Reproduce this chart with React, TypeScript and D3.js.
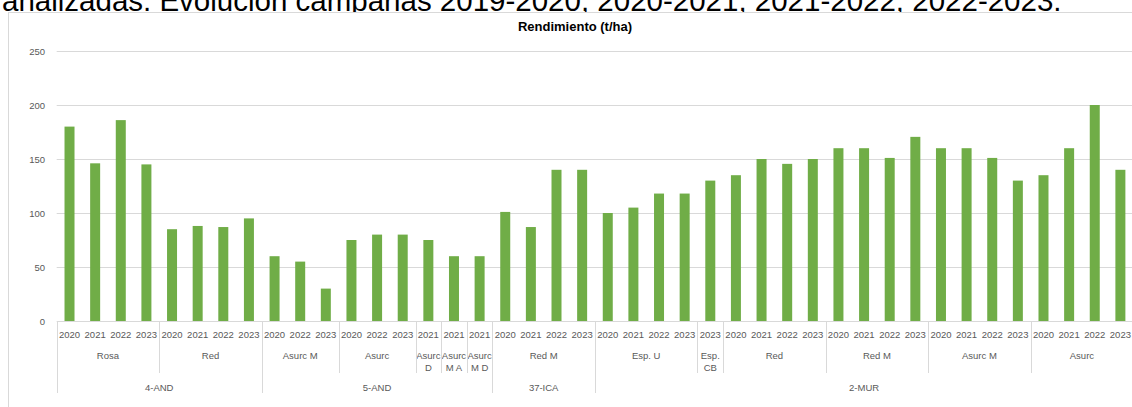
import { useEffect, useRef } from 'react';
import * as d3 from 'd3';

// Regions (bottom level of the axis)
const regiones = ["4-AND", "5-AND", "37-ICA", "2-MUR"];

// Variety groups (middle level) and the region each belongs to
const variedades = ["Rosa", "Red", "Asurc M", "Asurc", "Asurc D", "Asurc M A", "Asurc M D", "Red M", "Esp. U", "Esp. CB", "Red", "Red M", "Asurc M", "Asurc"];
const regionDeVariedad = [0, 0, 1, 1, 1, 1, 1, 2, 3, 3, 3, 3, 3, 3];

// Campaign years per variety group (top level)
const campanas = [
  ["2020", "2021", "2022", "2023"],
  ["2020", "2021", "2022", "2023"],
  ["2020", "2022", "2023"],
  ["2020", "2022", "2023"],
  ["2021"],
  ["2021"],
  ["2021"],
  ["2020", "2021", "2022", "2023"],
  ["2020", "2021", "2022", "2023"],
  ["2023"],
  ["2020", "2021", "2022", "2023"],
  ["2020", "2021", "2022", "2023"],
  ["2020", "2021", "2022", "2023"],
  ["2020", "2021", "2022", "2023"],
];

// Rendimiento (t/ha)
const rendimiento = [
  [180, 146, 186, 145],
  [85, 88, 87, 95],
  [60, 55, 30],
  [75, 80, 80],
  [75],
  [60],
  [60],
  [101, 87, 140, 140],
  [100, 105, 118, 118],
  [130],
  [135, 150, 145.5, 150],
  [160, 160, 151, 170.5],
  [160, 160, 151, 130],
  [135, 160, 200, 140],
];

const yTicks = [0, 50, 100, 150, 200, 250];

const FONT = "'Liberation Sans', Arial, sans-serif";
const LABEL = "#595959";

export default function App() {
  const svgRef = useRef<SVGSVGElement>(null);

  useEffect(() => {
    if (!svgRef.current) return;
    const svg = d3.select(svgRef.current);
    svg.selectAll("*").remove();

    // flatten into categories
    const cats: { year: string; value: number; group: number }[] = [];
    const groupStart: number[] = [];
    campanas.forEach((yrs, g) => {
      groupStart.push(cats.length);
      yrs.forEach((yr, j) => cats.push({ year: yr, value: rendimiento[g][j], group: g }));
    });
    const n = cats.length;

    const left = 56.7, right = 1133.2, top = 51, bottom = 321;
    const pad = 0.61;

    const x = d3.scaleBand<number>()
      .domain(d3.range(n))
      .range([left, right])
      .paddingInner(pad)
      .paddingOuter(pad / 2);

    const y = d3.scaleLinear().domain([0, 250]).range([bottom, top]);

    const edge = (i: number) => i >= n ? right : (x(i) as number) - (x.step() - x.bandwidth()) / 2;

    // page text above the chart (cut off at the top, as in the source)
    svg.append("text")
      .attr("x", 2)
      .attr("y", 11)
      .attr("font-family", FONT)
      .attr("font-size", 29.5)
      .attr("fill", "#000")
      .text("analizadas. Evolución campañas 2019-2020, 2020-2021, 2021-2022, 2022-2023.");

    // chart frame
    svg.append("rect")
      .attr("x", 8.5)
      .attr("y", 12.5)
      .attr("width", 1200)
      .attr("height", 500)
      .attr("fill", "#fff")
      .attr("stroke", "#d9d9d9");

    // title
    svg.append("text")
      .attr("x", 575)
      .attr("y", 31)
      .attr("text-anchor", "middle")
      .attr("font-family", FONT)
      .attr("font-weight", "bold")
      .attr("font-size", 13)
      .attr("fill", "#000")
      .text("Rendimiento (t/ha)");

    // gridlines
    svg.append("g")
      .selectAll("line")
      .data(yTicks)
      .enter()
      .append("line")
      .attr("x1", left)
      .attr("x2", right)
      .attr("y1", d => Math.round(y(d)) + 0.5)
      .attr("y2", d => Math.round(y(d)) + 0.5)
      .attr("stroke", "#d9d9d9")
      .attr("stroke-width", 1);

    // y labels
    svg.append("g")
      .selectAll("text")
      .data(yTicks)
      .enter()
      .append("text")
      .attr("x", 45)
      .attr("y", d => y(d) + 3.5)
      .attr("text-anchor", "end")
      .attr("font-family", FONT)
      .attr("font-size", 9.5)
      .attr("fill", LABEL)
      .text(d => d);

    // bars
    svg.append("g")
      .selectAll("rect")
      .data(cats)
      .enter()
      .append("rect")
      .attr("x", (_, i) => x(i) as number)
      .attr("y", d => y(d.value))
      .attr("width", x.bandwidth())
      .attr("height", d => bottom - y(d.value))
      .attr("fill", "#70ad47");

    // year labels
    svg.append("g")
      .selectAll("text")
      .data(cats)
      .enter()
      .append("text")
      .attr("x", (_, i) => (x(i) as number) + x.bandwidth() / 2)
      .attr("y", 338)
      .attr("text-anchor", "middle")
      .attr("font-family", FONT)
      .attr("font-size", 9.5)
      .attr("fill", LABEL)
      .text(d => d.year);

    // variety labels (single-year groups wrap onto two lines)
    variedades.forEach((name, g) => {
      const s = groupStart[g];
      const e = s + campanas[g].length;
      const cx = (edge(s) + edge(e)) / 2;
      const sp = name.indexOf(" ");
      const lines = campanas[g].length === 1 && sp > 0
        ? [name.slice(0, sp), name.slice(sp + 1)]
        : [name];
      lines.forEach((ln, k) => {
        svg.append("text")
          .attr("x", cx)
          .attr("y", 358.5 + k * 12.5)
          .attr("text-anchor", "middle")
          .attr("font-family", FONT)
          .attr("font-size", 9.5)
          .attr("fill", LABEL)
          .text(ln);
      });
    });

    // region labels
    regiones.forEach((name, r) => {
      const gs = regionDeVariedad.map((rr, g) => rr === r ? g : -1).filter(g => g >= 0);
      const s = groupStart[gs[0]];
      const e = groupStart[gs[gs.length - 1]] + campanas[gs[gs.length - 1]].length;
      svg.append("text")
        .attr("x", (edge(s) + edge(e)) / 2)
        .attr("y", 391)
        .attr("text-anchor", "middle")
        .attr("font-family", FONT)
        .attr("font-size", 9.5)
        .attr("fill", LABEL)
        .text(name);
    });

    // separators between groups
    const sep = svg.append("g").attr("stroke", "#d9d9d9").attr("stroke-width", 1);
    variedades.forEach((_, g) => {
      const s = groupStart[g];
      const isRegionStart = g === 0 || regionDeVariedad[g] !== regionDeVariedad[g - 1];
      const xx = Math.round(edge(s)) + 0.5;
      sep.append("line")
        .attr("x1", xx).attr("x2", xx)
        .attr("y1", bottom).attr("y2", isRegionStart ? 393 : 373);
    });
    const xe = Math.round(edge(n)) + 0.5;
    sep.append("line").attr("x1", xe).attr("x2", xe).attr("y1", bottom).attr("y2", 393);
  }, []);

  return (
    <svg
      ref={svgRef}
      width={1132}
      height={407}
      style={{ position: "absolute", left: 0, top: 0, background: "#fff" }}
    />
  );
}
